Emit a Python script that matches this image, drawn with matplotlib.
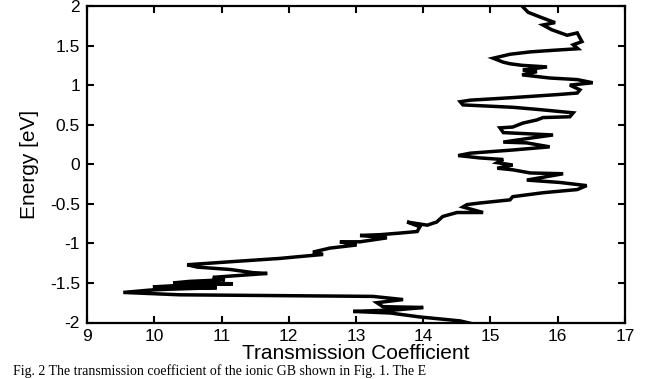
import matplotlib
matplotlib.use('Agg')
import matplotlib.pyplot as plt

# energy [eV] (vertical) and transmission coefficient (horizontal)
energy = [1.99, 1.92, 1.86, 1.79, 1.76, 1.70, 1.63, 1.66, 1.55, 1.51, 1.46, 1.44, 1.42, 1.39,
          1.34, 1.29, 1.27, 1.25, 1.23, 1.19, 1.17, 1.13, 1.09, 1.07, 1.03, 1.00, 0.94, 0.90,
          0.88, 0.84, 0.81, 0.79, 0.75, 0.74, 0.72, 0.69, 0.65, 0.60, 0.59, 0.56, 0.52, 0.47,
          0.46, 0.40, 0.37, 0.33, 0.28, 0.27, 0.22, 0.18, 0.14, 0.11, 0.08, 0.06, 0.02, -0.01,
          -0.05, -0.07, -0.11, -0.12, -0.20, -0.23, -0.27, -0.32, -0.36, -0.41, -0.45, -0.49,
          -0.51, -0.54, -0.61, -0.61, -0.66, -0.73, -0.77, -0.73, -0.79, -0.85, -0.87, -0.89,
          -0.90, -0.93, -0.98, -0.98, -1.02, -1.06, -1.11, -1.14, -1.17, -1.19, -1.23, -1.27,
          -1.30, -1.33, -1.37, -1.38, -1.42, -1.43, -1.46, -1.48, -1.50, -1.51, -1.53, -1.55,
          -1.56, -1.58, -1.59, -1.62, -1.65, -1.67, -1.71, -1.75, -1.80, -1.81, -1.84, -1.86,
          -1.88, -1.93, -1.98, -2.01]
trans = [15.48, 15.56, 15.74, 15.96, 15.78, 15.91, 16.14, 16.29, 16.36, 16.23, 16.30, 15.93, 15.59, 15.29,
         15.04, 15.19, 15.29, 15.47, 15.84, 15.48, 15.69, 15.47, 15.88, 16.29, 16.52, 16.18, 16.33, 16.29,
         15.99, 15.29, 14.70, 14.55, 14.59, 14.84, 15.33, 15.74, 16.23, 16.18, 15.78, 15.69, 15.48, 15.33,
         15.14, 15.19, 15.93, 15.59, 15.19, 15.54, 15.88, 15.33, 14.70, 14.52, 14.84, 15.19, 15.10, 15.33,
         15.10, 15.33, 15.59, 16.08, 15.54, 16.03, 16.43, 16.29, 15.78, 15.33, 15.29, 14.84,
         14.65, 14.59, 14.89, 14.50, 14.29, 14.20, 14.06, 13.76, 13.95, 13.91, 13.65, 13.36,
         13.06, 13.46, 13.06, 12.76, 13.01, 12.61, 12.36, 12.51, 12.12, 11.87, 11.17, 10.49,
         10.64, 11.13, 11.47, 11.68, 11.02, 10.87, 11.05, 10.53, 10.28, 11.17, 10.40, 9.98,
         10.93, 10.20, 9.94, 9.54, 10.38, 13.25, 13.70, 13.31, 13.40, 14.00, 13.61, 12.96,
         13.51, 13.95, 14.55, 14.70]

xticks = [9, 10, 11, 12, 13, 14, 15, 16, 17]
yticks = [-2, -1.5, -1, -0.5, 0, 0.5, 1, 1.5, 2]
ytick_labels = ['-2', '-1.5', '-1', '-0.5', '0', '0.5', '1', '1.5', '2']

plt.rcParams['font.family'] = ['Liberation Sans', 'DejaVu Sans']

fig = plt.figure(figsize=(6.56, 3.79), dpi=100)
ax = fig.add_axes([87/656, 1 - 322.5/379, 538/656, 316.5/379])
ax.plot(trans, energy, color='black', lw=2.5, solid_joinstyle='miter')
ax.set_xlim(9, 17)
ax.set_ylim(-2, 2)
ax.set_xticks(xticks)
ax.set_yticks(yticks)
ax.set_yticklabels(ytick_labels)
ax.tick_params(direction='in', length=5, width=1.5, top=True, right=True,
               labelsize=12.5, pad=5)
for s in ax.spines.values():
    s.set_linewidth(1.6)
ax.set_xlabel('Transmission Coefficient', fontsize=15, labelpad=0)
ax.set_ylabel('Energy [eV]', fontsize=15, labelpad=8)

fig.text(0.02, 0.5/379, 'Fig. 2 The transmission coefficient of the ionic GB shown in Fig. 1. The E',
         family='Liberation Serif', fontsize=10, va='bottom', ha='left')

fig.savefig('out.png', dpi=100)
